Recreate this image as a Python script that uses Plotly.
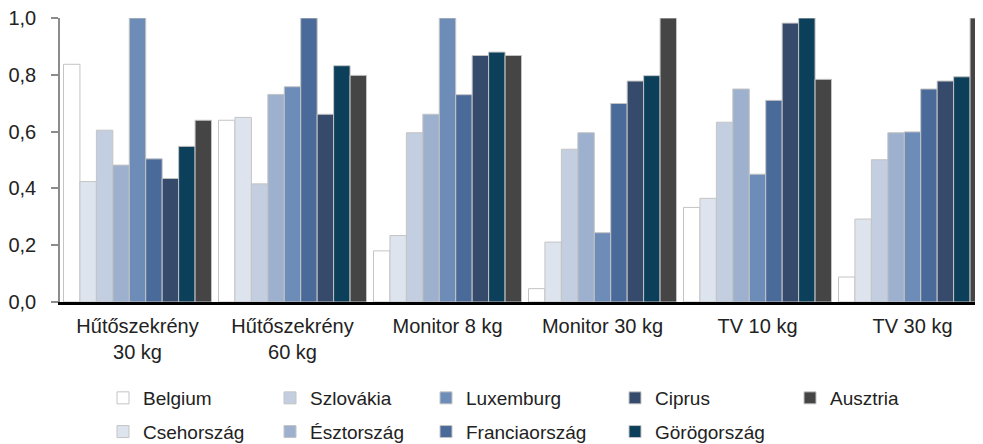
import plotly.graph_objects as go

categories = ["Hűtőszekrény<br>30 kg", "Hűtőszekrény<br>60 kg", "Monitor 8 kg",
              "Monitor 30 kg", "TV 10 kg", "TV 30 kg"]

countries = ["Belgium", "Csehország", "Szlovákia", "Észtország", "Luxemburg",
             "Franciaország", "Ciprus", "Görögország", "Ausztria"]

belgium       = [0.837, 0.640, 0.180, 0.047, 0.333, 0.088]
csehorszag    = [0.424, 0.650, 0.234, 0.211, 0.365, 0.292]
szlovakia     = [0.605, 0.416, 0.596, 0.538, 0.633, 0.501]
esztorszag    = [0.482, 0.731, 0.661, 0.596, 0.750, 0.596]
luxemburg     = [1.000, 0.758, 1.000, 0.244, 0.450, 0.599]
franciaorszag = [0.504, 1.000, 0.730, 0.699, 0.710, 0.750]
ciprus        = [0.435, 0.661, 0.868, 0.778, 0.982, 0.778]
gorogorszag   = [0.548, 0.832, 0.880, 0.797, 1.000, 0.793]
ausztria      = [0.640, 0.798, 0.868, 1.000, 0.784, 1.000]

series = [belgium, csehorszag, szlovakia, esztorszag, luxemburg,
          franciaorszag, ciprus, gorogorszag, ausztria]

colors = ["#ffffff", "#dee4ee", "#c3cee0", "#9db0cd", "#6d8cb8",
          "#4a6a9a", "#364a6b", "#0b3f5a", "#454545"]

# legend column assignment (column-major layout of the reference legend)
legend_ids = ["legend", "legend", "legend2", "legend2", "legend3",
              "legend3", "legend4", "legend4", "legend5"]

FONT = "Liberation Sans, Arial, sans-serif"
W, H = 983, 444

fig = go.Figure()
for name, vals, col, lg in zip(countries, series, colors, legend_ids):
    fig.add_trace(go.Bar(
        x=categories, y=vals, name=name,
        marker=dict(color=col, line=dict(color="#c4c4c4", width=1)),
        legend=lg, legendgroup=name,
    ))

# legend columns: text left x, rows
text_x = [143, 310, 466, 655, 830]
row1_center = 398

def leg(i):
    return dict(
        xref="container", yref="container",
        x=(text_x[i] - 48) / W, xanchor="left",
        y=1 - (row1_center - 27) / H, yanchor="top",
        orientation="v", traceorder="grouped", tracegroupgap=6,
        bgcolor="rgba(0,0,0,0)", borderwidth=0,
        font=dict(family=FONT, size=19, color="#222222"),
    )

fig.update_layout(
    width=W, height=H,
    margin=dict(l=52, r=8, t=10, b=150, autoexpand=False),
    plot_bgcolor="white", paper_bgcolor="white",
    barmode="group", bargap=0.045, bargroupgap=0,
    separators=", ",
    font=dict(family=FONT, size=20, color="#222222"),
    legend=leg(0), legend2=leg(1), legend3=leg(2), legend4=leg(3), legend5=leg(4),
    xaxis=dict(
        range=[-0.5, -0.5 + 923 / 155],
        showline=True, linecolor="#000000", linewidth=3,
        showgrid=False, ticks="", zeroline=False,
        ticklabelstandoff=4,
        tickfont=dict(family=FONT, size=20, color="#222222"),
    ),
    yaxis=dict(
        range=[0, 1], tickvals=[0, 0.2, 0.4, 0.6, 0.8, 1.0], tickformat=".1f",
        showline=True, linecolor="#8c8c8c", linewidth=1.5,
        ticks="outside", ticklen=7, tickcolor="#8c8c8c", tickwidth=1.5,
        ticklabelstandoff=11, ticklabeloverflow="allow",
        showgrid=False, zeroline=False,
        tickfont=dict(family=FONT, size=20, color="#222222"),
    ),
)

fig.write_html("out.html")
